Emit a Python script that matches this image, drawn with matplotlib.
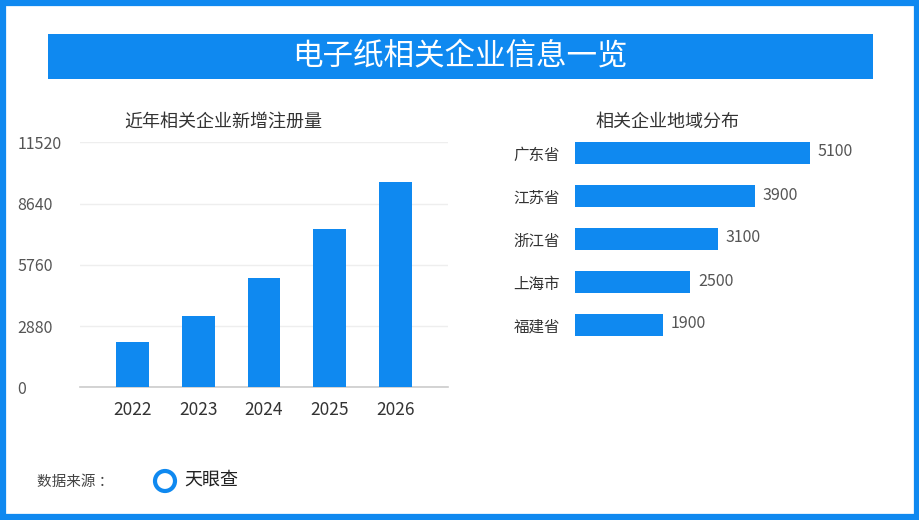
import matplotlib
matplotlib.use('Agg')
import matplotlib.pyplot as plt
from matplotlib.patches import Rectangle, Ellipse

plt.rcParams['font.family'] = ['Noto Sans CJK SC', 'DejaVu Sans']

BLUE = '#0f89f0'
W, H = 920, 520

# data
years = ['2022', '2023', '2024', '2025', '2026']
new_regs = [2130, 3350, 5130, 7440, 9650]
y_ticks = [0, 2880, 5760, 8640, 11520]

provinces = ['广东省', '江苏省', '浙江省', '上海市', '福建省']
prov_counts = [5100, 3900, 3100, 2500, 1900]

title = '电子纸相关企业信息一览'
left_title = '近年相关企业新增注册量'
right_title = '相关企业地域分布'
source_label = '数据来源 ：'
source_name = '天眼查'


def box(x0, y0, x1, y1):
    # pixel box (top-left origin) -> figure fraction rect
    return [x0 / W, 1 - y1 / H, (x1 - x0) / W, (y1 - y0) / H]


fig = plt.figure(figsize=(9.2, 5.2), dpi=100)
fig.patch.set_facecolor('white')

# outer frame
frame = Rectangle((3 / W, 3 / H), 1 - 6 / W, 1 - 6 / H, transform=fig.transFigure,
                  fill=False, edgecolor=BLUE, linewidth=4.5)
fig.add_artist(frame)

# banner
fig.add_artist(Rectangle((48 / W, 1 - 79 / H), (873 - 48) / W, 45 / H,
                         transform=fig.transFigure, facecolor=BLUE, edgecolor='none'))
fig.text(460 / W, 1 - 57 / H, title, color='white', fontsize=22,
         ha='center', va='center')

# left chart
ax1 = fig.add_axes(box(80, 142.3, 448, 387.3))
x = range(len(years))
ax1.bar(x, new_regs, width=0.5, color=BLUE, zorder=3)
ax1.set_xlim(-0.8, 4.8)
ax1.set_ylim(0, 11520)
ax1.set_yticks(y_ticks)
ax1.set_yticklabels([str(v) for v in y_ticks], ha='left')
ax1.tick_params(axis='y', length=0, pad=45, labelsize=11.5, labelcolor='#555555')
ax1.set_xticks(list(x))
ax1.set_xticklabels(years)
ax1.tick_params(axis='x', length=0, pad=10, labelsize=12.5, labelcolor='#333333')
ax1.grid(axis='y', color='#eeeeee', linewidth=1, zorder=0)
for s in ['top', 'right', 'left']:
    ax1.spines[s].set_visible(False)
ax1.spines['bottom'].set_color('#cccccc')
ax1.spines['bottom'].set_linewidth(1.2)
fig.text(223 / W, 1 - 122 / H, left_title, fontsize=13, color='#333333',
         ha='center', va='center')

# right chart
ax2 = fig.add_axes(box(575, 131.5, 870, 346.5))
yy = range(len(provinces))
ax2.barh(yy, prov_counts, height=0.53, color=BLUE)
ax2.set_ylim(4.5, -0.5)
ax2.set_xlim(0, 5100 * 295 / 235)
ax2.set_yticks(list(yy))
ax2.set_yticklabels(provinces)
ax2.tick_params(axis='y', length=0, pad=11, labelsize=11.2, labelcolor='#333333')
ax2.set_xticks([])
for s in ax2.spines.values():
    s.set_visible(False)
for i, v in enumerate(prov_counts):
    ax2.annotate(str(v), (v, i), xytext=(8, 1), textcoords='offset pixels',
                 ha='left', va='center', fontsize=11.5, color='#555555')
fig.text(667 / W, 1 - 122 / H, right_title, fontsize=13, color='#333333',
         ha='center', va='center')

# footer
fig.text(37 / W, 1 - 482 / H, source_label, fontsize=10.5, color='#444444',
         ha='left', va='center')
fig.add_artist(Ellipse((165 / W, 1 - 481 / H), 20 / W, 20 / H, transform=fig.transFigure,
                       fill=False, edgecolor=BLUE, linewidth=3))
fig.text(184 / W, 1 - 480 / H, source_name, fontsize=13, color='#222222',
         ha='left', va='center')

fig.savefig('out.png', dpi=100)
